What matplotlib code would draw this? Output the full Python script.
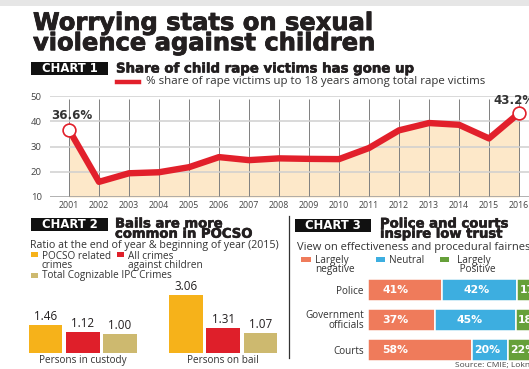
import matplotlib
matplotlib.use('Agg')
import matplotlib.pyplot as plt
from matplotlib.patches import Rectangle
import matplotlib.patheffects as pe
import numpy as np

# ---------------- data ----------------
years = list(range(2001, 2017))
share = [36.6, 16.0, 19.4, 19.8, 21.8, 25.8, 24.6, 25.3, 25.1, 25.0,
         29.4, 36.4, 39.3, 38.6, 33.2, 43.2]
year_labels = [str(y) for y in years]
y_ticks = [10, 20, 30, 40, 50]

bail_groups = ['Persons in custody', 'Persons on bail']
pocso = [1.46, 3.06]
all_children = [1.12, 1.31]
total_ipc = [1.00, 1.07]

trust_cats = ['Police', 'Government\nofficials', 'Courts']
negative = [41, 37, 58]
neutral = [42, 45, 20]
positive = [17, 18, 22]

# ---------------- style ----------------
INK = '#231f20'
GREY = '#333333'
RED = '#e2202b'
FILL = '#fde8c9'
YEL = '#f6b21a'
RED2 = '#df1f2a'
TAN = '#cdb96f'
SALMON = '#ef7b5b'
BLUE = '#3daee0'
GREEN = '#66a03a'
BODY = 'Open Sans'
HEAVY = 'DejaVu Sans'

W, H = 529, 369
fig = plt.figure(figsize=(W / 100, H / 100), dpi=100)
fig.patch.set_facecolor('white')
R = fig.canvas.get_renderer()


def stroke(w):
    return [pe.withStroke(linewidth=w, foreground=INK)]


def T(x, y, s, size, fit=None, family=BODY, weight='normal', color=INK,
      ha='left', va='baseline', **kw):
    t = fig.text(x / W, 1 - y / H, s, fontsize=size, family=family,
                 fontweight=weight, color=color, ha=ha, va=va, **kw)
    if fit:
        w = t.get_window_extent(R).width
        t.set_fontsize(size * fit / w)
    return t


def box(x0, y0, x1, y1, color):
    fig.add_artist(Rectangle((x0 / W, 1 - y1 / H), (x1 - x0) / W, (y1 - y0) / H,
                             transform=fig.transFigure, facecolor=color,
                             edgecolor='none'))


# top grey strip
box(0, 0, W, 5.5, '#e6e6e6')

# main title
T(33, 11.0, 'Worrying stats on sexual\nviolence against children', 17.4,
  family=HEAVY, weight='bold', va='top', linespacing=0.8, path_effects=stroke(0.6))

# ---------------- chart 1 ----------------
box(31, 62, 108, 74.5, '#111111')
T(69.5, 68.5, 'CHART 1', 8.4, family=HEAVY, weight='bold', color='white',
  ha='center', va='center')
T(116, 72.5, 'Share of child rape victims has gone up', 9.6,
  family=HEAVY, weight='bold', path_effects=stroke(0.4))
fig.add_artist(plt.Line2D([117 / W, 139 / W], [1 - 81.5 / H, 1 - 81.5 / H],
                          color=RED, lw=3.2, transform=fig.transFigure))
T(146.5, 81.5, '% share of rape victims up to 18 years among total rape victims',
  6, fit=339, color=GREY, va='center')

ax1 = fig.add_axes([50 / W, 1 - 197 / H, 479 / W, 101 / H])
ax1.set_xlim(2001 - 19 / 30, 2001 + 460 / 30)
ax1.set_ylim(10, 50)
for s in ax1.spines.values():
    s.set_visible(False)
ax1.fill_between(years, share, 10, color=FILL, lw=0, zorder=1)
for v in y_ticks[1:]:
    ax1.axhline(v, color='#cfcfcf', lw=1.1, zorder=1.6)
ax1.axhline(10, color='#9c9c9c', lw=1.1, zorder=2)
ax1.vlines(years, 10, 48.8, color='#7f7f7f', lw=0.7, zorder=1.5)
ax1.plot(years, share, color=RED, lw=4.6, solid_joinstyle='round',
         solid_capstyle='round', zorder=3)
ax1.plot([years[0], years[-1]], [share[0], share[-1]], 'o', ms=9.2,
         mfc='white', mec=RED, mew=1.2, zorder=4, clip_on=False)
ax1.annotate(f'{share[0]}%', (years[0], share[0]), xytext=(-18, 8),
             textcoords='offset pixels', ha='left', va='bottom', fontsize=8.6,
             fontweight='bold', color=GREY, family=HEAVY)
ax1.annotate(f'{share[-1]}%', (years[-1], share[-1]), xytext=(-26, 6),
             textcoords='offset pixels', ha='left', va='bottom', fontsize=8.6,
             fontweight='bold', color=GREY, family=HEAVY)
ax1.set_yticks(y_ticks)
ax1.set_yticklabels([str(v) for v in y_ticks], fontsize=6.8, color='#444444',
                    family=BODY)
ax1.set_xticks(years)
ax1.set_xticklabels(year_labels, fontsize=6.3, color='#444444', family=BODY)
ax1.tick_params(axis='y', length=0, pad=6)
ax1.tick_params(axis='x', length=0, pad=3)

# ---------------- chart 2 ----------------
box(31, 218, 108, 231, '#111111')
T(69.5, 224.5, 'CHART 2', 8.4, family=HEAVY, weight='bold', color='white',
  ha='center', va='center')
T(115, 217.5, 'Bails are more\ncommon in POCSO', 9.5, family=HEAVY, weight='bold',
  va='top', linespacing=0.72, path_effects=stroke(0.4))
tr = T(29.5, 248.4, 'Ratio at the end of year & beginning of year (2015)', 6,
       fit=249, color=GREY)
bs = tr.get_fontsize() * 0.95

box(31, 252, 38, 256.5, YEL)
T(42, 251.2, 'POCSO related\ncrimes', bs, color=GREY, va='top', linespacing=0.76)
box(117, 252, 124, 256.5, RED2)
T(128, 251.2, 'All crimes\nagainst children', bs, color=GREY, va='top',
  linespacing=0.76)
box(31, 273, 38, 277.5, TAN)
T(42, 278.4, 'Total Cognizable IPC Crimes', bs, color=GREY)

ax2 = fig.add_axes([29 / W, 1 - 352.7 / H, 248 / W, 65.7 / H])
gx = np.array([0, 3.78])
for i, (vals, col) in enumerate(zip([pocso, all_children, total_ipc],
                                    [YEL, RED2, TAN])):
    xs = gx + i - 1
    ax2.bar(xs, vals, width=0.9, color=col)
    for x, v in zip(xs, vals):
        ax2.annotate(f'{v:.2f}', (x, v), xytext=(0, 2), textcoords='offset pixels',
                     ha='center', va='bottom', fontsize=8.4, color=INK,
                     family=BODY)
ax2.set_xlim(-1.45, gx[1] + 1.45)
ax2.set_ylim(0, 3.51)
for s in ax2.spines.values():
    s.set_visible(False)
ax2.set_yticks([])
ax2.set_xticks(gx)
ax2.set_xticklabels(bail_groups, fontsize=7.2, color=GREY, family=BODY)
ax2.tick_params(axis='x', length=0, pad=1.5)

# separator
fig.add_artist(plt.Line2D([288.5 / W, 288.5 / W], [1 - 216 / H, 1 - 358 / H],
                          color=GREY, lw=0.9, transform=fig.transFigure))

# ---------------- chart 3 ----------------
box(295, 219, 371, 231.5, '#111111')
T(333, 225.2, 'CHART 3', 8.4, family=HEAVY, weight='bold', color='white',
  ha='center', va='center')
T(380, 217.5, 'Police and courts\ninspire low trust', 9.5, family=HEAVY,
  weight='bold', va='top', linespacing=0.72, path_effects=stroke(0.4))
T(297, 249.6, 'View on effectiveness and procedural fairness', bs * 1.1,
  color=GREY)

box(301, 256.5, 311, 261.5, SALMON)
T(315, 255.2, 'Largely\nnegative', bs, color=GREY, va='top', linespacing=0.74)
box(376, 256.5, 384.5, 261.5, BLUE)
T(389, 255.2, 'Neutral', bs, color=GREY, va='top')
box(440, 256.5, 448.5, 261.5, GREEN)
T(457, 255.2, 'Largely\n Positive', bs, color=GREY, va='top', linespacing=0.74)

ax3 = fig.add_axes([368 / W, 1 - 364.5 / H, (W - 368) / W, 89 / H])
ax3.set_xlim(0, (W - 368) / 1.8)
ax3.set_ylim(2.5, -0.5)
for s in ax3.spines.values():
    s.set_visible(False)
ys = np.arange(len(trust_cats))
left = np.zeros(len(trust_cats))
for k, (vals, col) in enumerate(zip([negative, neutral, positive],
                                    [SALMON, BLUE, GREEN])):
    ax3.barh(ys, vals, left=left, height=0.74, color=col, edgecolor='white',
             lw=1.1)
    for y, l, v in zip(ys, left, vals):
        off = 8 if k == 0 else (12 if v >= 25 else 1.2)
        ax3.text(l + off, y, f'{v}%', ha='left', va='center', fontsize=7.8,
                 fontweight='bold', color='white', family=HEAVY, clip_on=True)
    left = left + np.array(vals)
ax3.set_xticks([])
ax3.set_yticks(ys)
ax3.set_yticklabels(trust_cats, fontsize=7.2, color=GREY, family=BODY,
                    linespacing=0.8)
ax3.tick_params(axis='y', length=0, pad=3)

T(455, 362, 'Source: CMIE; Lokniti-CSDS', 6, color='#444444', va='top')

fig.savefig('out.png', dpi=100, facecolor='white')
